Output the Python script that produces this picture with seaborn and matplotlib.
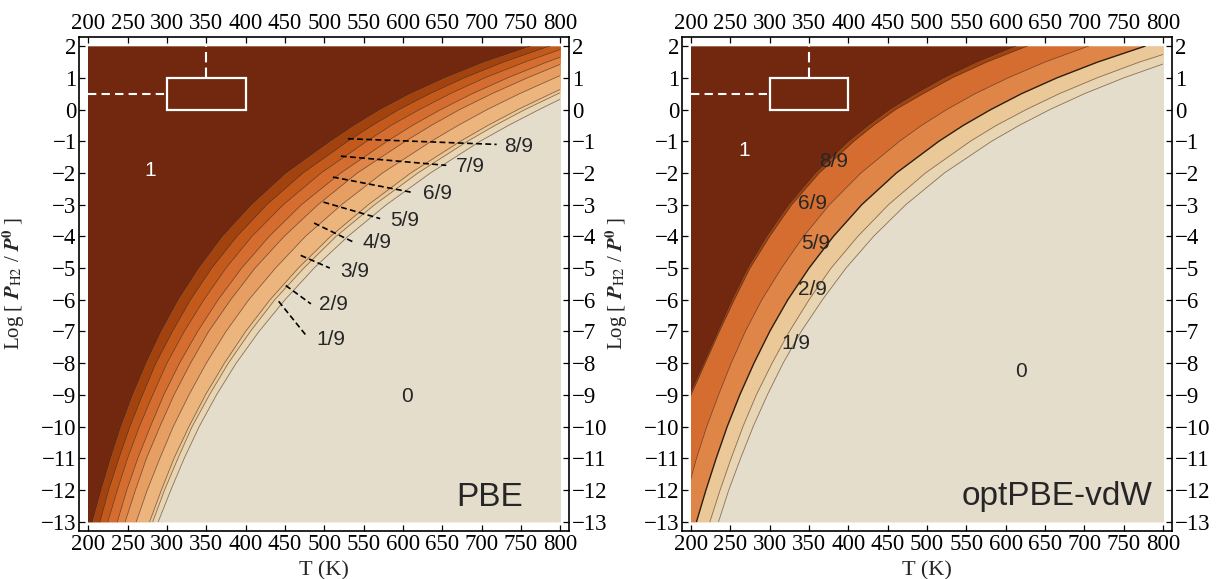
import matplotlib.pyplot as plt
import matplotlib.patches as mpatches
import seaborn as sns

sns.set_theme(style="ticks")
plt.rcParams["font.family"] = ["Liberation Serif", "DejaVu Serif"]
plt.rcParams["mathtext.fontset"] = "stix"

# log10 of the H2 pressure at which the boundary temperatures are read
log_p = [-13, -12, -11, -10, -9, -8, -7, -6, -5, -4, -3, -2, -1, -0.5, 0, 0.5, 1, 1.5, 2]

# PBE: temperature (K) of each coverage boundary, from the theta=1 side to theta=0
pbe_b1 = [205, 216, 228, 241, 256, 273, 292, 314, 340, 370, 407, 451, 507, 537, 570, 608, 652, 702, 761]
pbe_b2 = [215, 226, 239, 253, 269, 286, 307, 330, 357, 389, 427, 473, 530, 561, 595, 634, 678, 728, 786]
pbe_b3 = [225, 237, 250, 265, 282, 300, 322, 347, 375, 408, 448, 496, 554, 585, 621, 660, 704, 755, 812]
pbe_b4 = [237, 249, 263, 279, 296, 316, 339, 365, 395, 430, 471, 521, 580, 612, 648, 688, 733, 783, 839]
pbe_b5 = [247, 260, 274, 291, 309, 330, 353, 381, 412, 449, 492, 542, 603, 636, 672, 713, 758, 807, 861]
pbe_b6 = [261, 275, 291, 308, 328, 350, 375, 404, 438, 476, 522, 574, 636, 670, 707, 748, 793, 841, 894]
pbe_b7 = [278, 293, 309, 328, 349, 373, 400, 431, 467, 508, 556, 610, 673, 708, 746, 788, 832, 879, 929]
pbe_b8 = [282, 297, 314, 332, 354, 378, 406, 437, 474, 515, 564, 619, 682, 717, 755, 797, 841, 888, 937]
pbe_b9 = [289, 305, 322, 341, 363, 388, 417, 450, 487, 530, 579, 635, 698, 734, 773, 814, 858, 904, 952]
pbe_coverage = ["1", "8/9", "7/9", "6/9", "5/9", "4/9", "3/9", "2/9", "1/9", "0"]

# optPBE-vdW boundaries
vdw_b1 = [155, 163, 172, 185, 198, 216, 234, 252, 272, 296, 324, 358, 400, 425, 452, 485, 521, 563, 612]
vdw_b2 = [156, 164, 173, 186, 200, 218, 236, 255, 275, 300, 328, 363, 407, 432, 460, 495, 532, 576, 627]
vdw_b3 = [187, 196, 207, 220, 235, 251, 269, 290, 315, 343, 376, 416, 465, 493, 525, 561, 603, 650, 705]
vdw_b4 = [207, 219, 232, 246, 262, 280, 300, 323, 350, 381, 417, 461, 515, 546, 581, 620, 665, 717, 777]
vdw_b5 = [224, 237, 251, 266, 283, 303, 325, 350, 378, 412, 451, 498, 555, 588, 626, 668, 716, 770, 833]
vdw_b6 = [235, 248, 263, 279, 297, 317, 340, 367, 397, 432, 473, 522, 582, 617, 656, 700, 750, 807, 873]
vdw_coverage = ["1", "8/9", "6/9", "5/9", "2/9", "1/9", "0"]

# colour for each coverage value
cov_color = {
    "1": "#71280f", "8/9": "#a2420f", "7/9": "#c35a1c", "6/9": "#d46d2f",
    "5/9": "#df8547", "4/9": "#e79e62", "3/9": "#ebb57d", "2/9": "#ebc898",
    "1/9": "#e8d5b3", "0": "#e5ddcc",
}

# label placement (T, logP): text anchor, pointer start, pointer end
pbe_notes = [
    ("8/9", (729, -1.15), (530, -0.92), (719, -1.10)),
    ("7/9", (667, -1.80), (521, -1.47), (655, -1.76)),
    ("6/9", (625, -2.65), (511, -2.13), (613, -2.62)),
    ("5/9", (584, -3.50), (499, -2.92), (571, -3.44)),
    ("4/9", (549, -4.20), (487, -3.58), (537, -4.18)),
    ("3/9", (520, -5.10), (470, -4.60), (507, -5.00)),
    ("2/9", (493, -6.16), (451, -5.55), (483, -6.13)),
    ("1/9", (490, -7.24), (442, -6.05), (478, -7.16)),
]
vdw_notes = [("8/9", 381, -1.65), ("6/9", 354, -2.97), ("5/9", 359, -4.23),
             ("2/9", 354, -5.69), ("1/9", 333, -7.39)]

SANS = ["Liberation Sans", "DejaVu Sans"]


def draw_panel(ax, bounds, coverage, dark_lines=()):
    pal = sns.color_palette([cov_color[c] for c in coverage])
    box = mpatches.Rectangle((200, -13), 600, 15, facecolor=pal[-1],
                             edgecolor="none", zorder=0)
    ax.add_patch(box)
    edges = [[150] * len(log_p)] + bounds + [[1000] * len(log_p)]
    for i, col in enumerate(pal):
        poly = ax.fill_betweenx(log_p, edges[i], edges[i + 1], facecolor=col,
                                edgecolor=col, lw=0.3, zorder=1)
        poly.set_clip_path(box)
    for j, b in enumerate(bounds):
        dark = j in dark_lines
        sns.lineplot(x=b, y=log_p, orient="y", ax=ax,
                     color="#1a1208" if dark else "#4a3020",
                     lw=1.0 if dark else 0.6, alpha=0.9 if dark else 0.6, zorder=2)
        ax.lines[-1].set_clip_path(box)

    # white box with dashed guides
    ax.add_patch(mpatches.Rectangle((300, 0), 100, 1, fill=False, edgecolor="white",
                                    lw=1.6, zorder=4))
    ax.plot([200, 300], [0.5, 0.5], color="white", lw=1.5, ls=(0, (4, 2.5)), zorder=4)
    ax.plot([350, 350], [1, 2], color="white", lw=1.5, ls=(0, (5, 2.5)), zorder=4)

    ax.set_xlim(188.6, 811.4)
    ax.set_ylim(-13.3, 2.3)
    ax.set_xticks(range(200, 801, 50))
    ax.set_yticks(range(-13, 3))
    ax.tick_params(direction="in", length=4, width=0.9, top=True, right=True,
                   labeltop=True, labelright=True, labelsize=16.5, pad=2,
                   colors="black")
    for sp in ax.spines.values():
        sp.set_linewidth(1.2)
        sp.set_color("black")
    ax.set_xlabel("T (K)", fontsize=16)
    ax.xaxis.set_label_coords(0.5, -0.06)
    ax.set_ylabel(r"Log [ $\mathbfit{P}_{\mathrm{H2}}$ / $\mathbfit{P}^{\mathbf{0}}$ ]",
                  fontsize=15)
    ax.yaxis.set_label_coords(-0.106, 0.5)


fig = plt.figure(figsize=(12.16, 5.79), dpi=100)
ax1 = fig.add_axes([0.0652, 0.0826, 0.4030, 0.8541])
ax2 = fig.add_axes([0.5609, 0.0826, 0.4030, 0.8541])

draw_panel(ax1, [pbe_b1, pbe_b2, pbe_b3, pbe_b4, pbe_b5, pbe_b6, pbe_b7, pbe_b8, pbe_b9],
           pbe_coverage)
draw_panel(ax2, [vdw_b1, vdw_b2, vdw_b3, vdw_b4, vdw_b5, vdw_b6], vdw_coverage,
           dark_lines=(3,))

# PBE labels with dashed pointers
for txt, (tx, ty), (x0, y0), (x1, y1) in pbe_notes:
    ax1.plot([x0, x1], [y0, y1], color="black", lw=1.2, ls=(0, (3.5, 2)), zorder=5)
    ax1.text(tx, ty, txt, fontsize=15, family=SANS, ha="left", va="center", zorder=6)
ax1.text(279, -1.92, "1", fontsize=15, family=SANS, color="white", ha="center", va="center")
ax1.text(605, -9.05, "0", fontsize=15, family=SANS, ha="center", va="center")
ax1.text(752, -12.5, "PBE", fontsize=24, family=SANS, ha="right", va="baseline")

# optPBE-vdW labels
for txt, tx, ty in vdw_notes:
    ax2.text(tx, ty, txt, fontsize=15, family=SANS, ha="center", va="center", zorder=6)
ax2.text(267, -1.28, "1", fontsize=15, family=SANS, color="white", ha="center", va="center")
ax2.text(619, -8.26, "0", fontsize=15, family=SANS, ha="center", va="center")
ax2.text(787, -12.47, "optPBE-vdW", fontsize=24, family=SANS, ha="right", va="baseline")

fig.savefig("out.png", dpi=100)
plt.close(fig)
